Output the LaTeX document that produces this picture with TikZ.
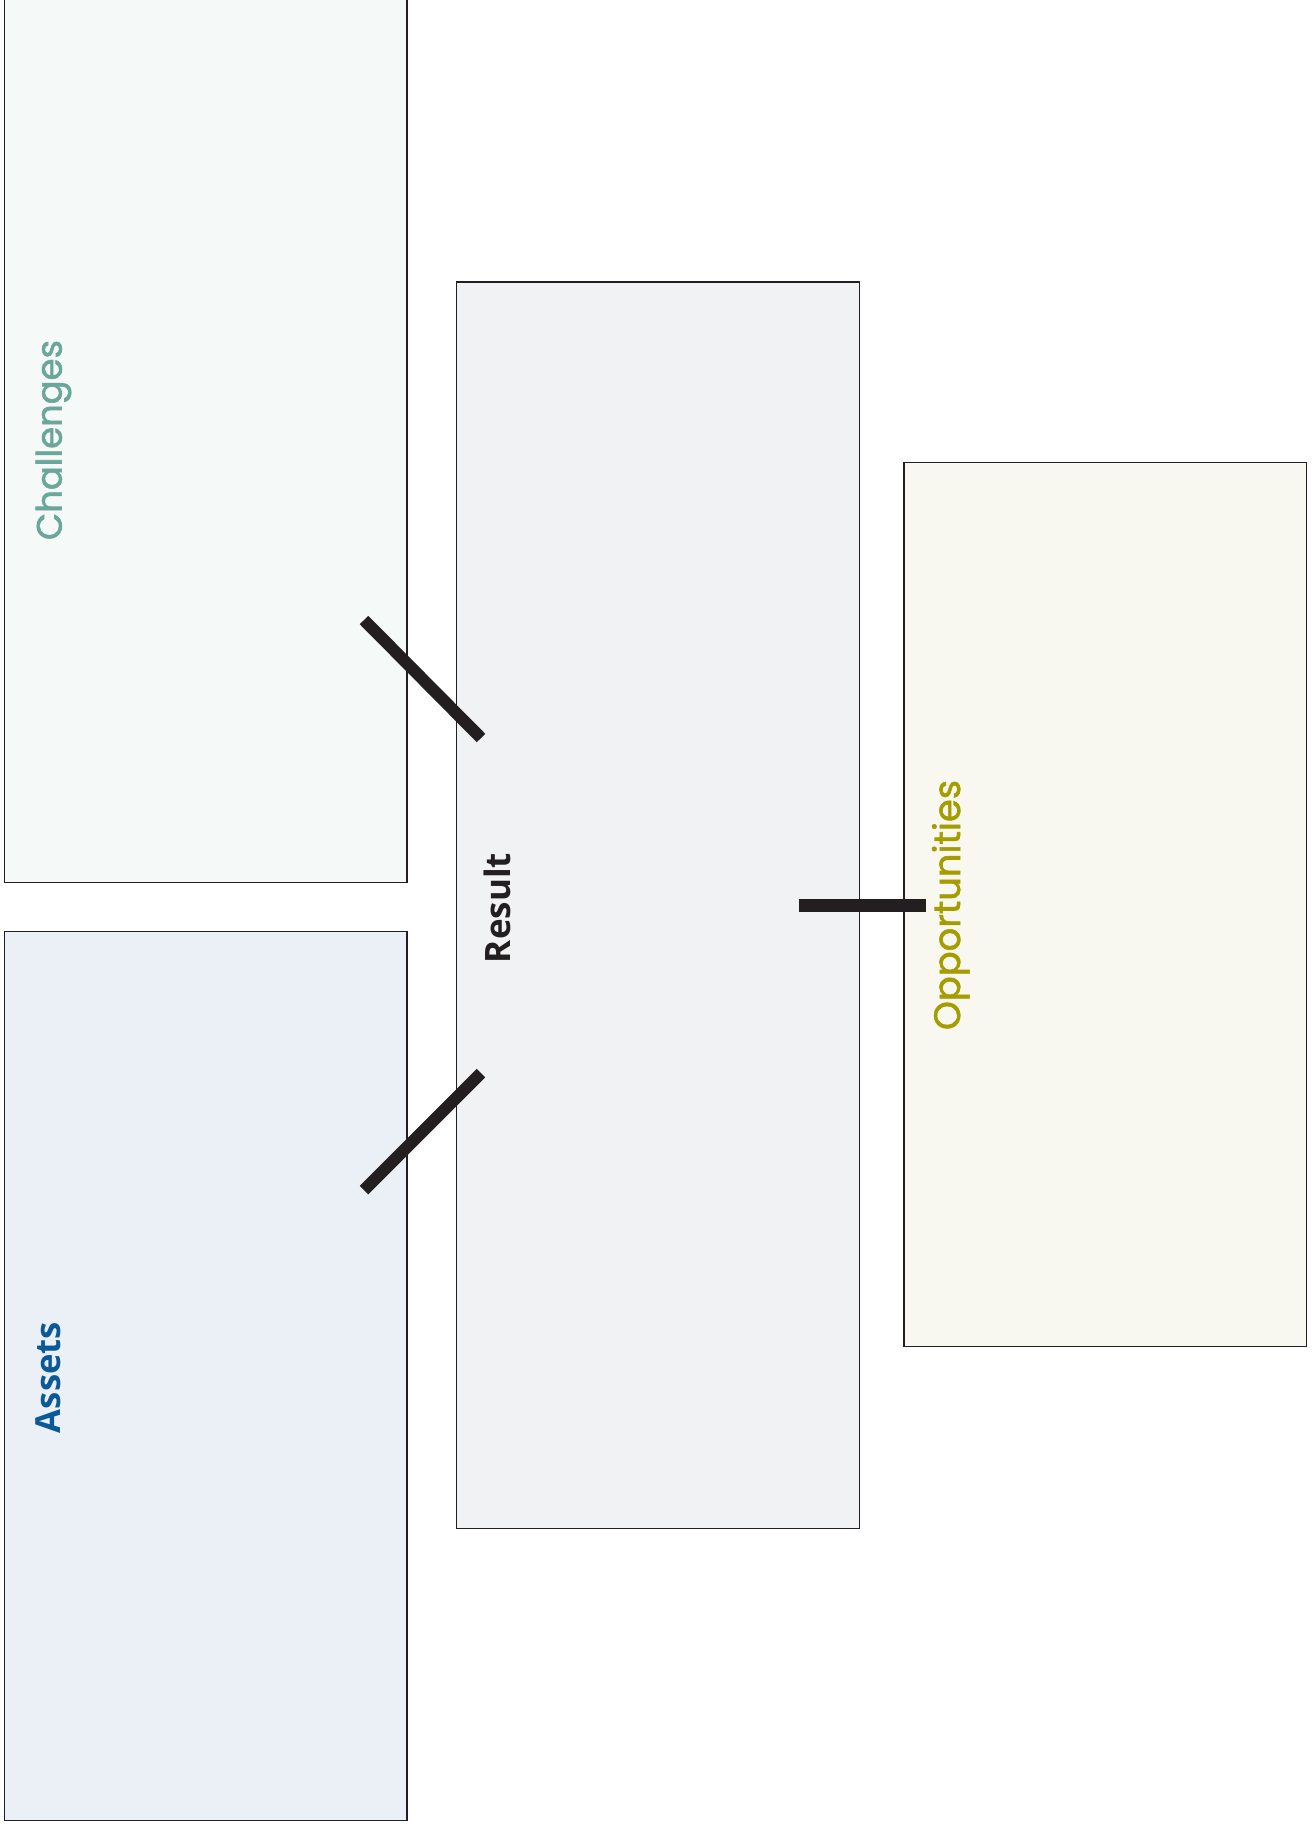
\documentclass[tikz,border=0pt]{standalone}
\usepackage{fontspec}
\setmainfont{Poppins}
\newfontfamily\geosans{Poppins}[FakeBold=1.6]
\newfontfamily\boldsans{Open Sans}[BoldFont={* Bold}]
\usepackage{graphicx}

\definecolor{inkline}{RGB}{35,31,32}
\definecolor{chalfill}{RGB}{245,249,248}
\definecolor{chaltext}{RGB}{106,166,153}
\definecolor{assetfill}{RGB}{235,240,247}
\definecolor{assettext}{RGB}{11,90,151}
\definecolor{resfill}{RGB}{241,242,244}
\definecolor{opfill}{RGB}{248,248,241}
\definecolor{optext}{RGB}{165,157,0}

\begin{document}
\begin{tikzpicture}[x=1pt,y=-1pt,
  panel/.style={draw=inkline, line width=1.2pt, inner sep=0pt},
  link/.style={draw=inkline, line width=12pt, line cap=butt},
  vlabel/.style={rotate=90, anchor=base west, inner sep=0pt, outer sep=0pt}]
  \useasboundingbox (0,0) rectangle (1314,1828);

  % four panels (the top one runs off the upper edge)
  \path[panel, fill=chalfill]  (4.5,-10) rectangle (407,882.7);
  \node[minimum width=402.5pt, minimum height=892.7pt, inner sep=0pt] (chal) at (205.75,436.35) {};
  \node[panel, fill=assetfill, minimum width=402.5pt, minimum height=889pt] (asset) at (205.75,1376.2) {};
  \node[panel, fill=resfill, minimum width=402.6pt, minimum height=1246.7pt] (res) at (658,905.35) {};
  \node[panel, fill=opfill, minimum width=402.7pt, minimum height=884pt] (opp) at (1105.35,904.7) {};

  % panel titles
  \node[vlabel, text=chaltext] (chaltitle) at (61.7,540)
    {\resizebox{200pt}{!}{\geosans Challenges}};
  \node[vlabel, text=assettext] (assettitle) at (60,1433)
    {\resizebox{111pt}{!}{\boldsans\bfseries Assets}};
  \node[vlabel, text=inkline] (restitle) at (510.7,963)
    {\resizebox{110pt}{!}{\boldsans\bfseries Result}};
  \node[vlabel, text=optext] (opptitle) at (960,1030)
    {\resizebox{250pt}{!}{\geosans Opportunities}};

  % connector ends
  \coordinate (c1) at (364,620);
  \coordinate (c2) at (481,738);
  \coordinate (a1) at (364,1190);
  \coordinate (a2) at (481,1073);
  \coordinate (o1) at (799,905.8);
  \coordinate (o2) at (926,905.8);

  % connectors
  \draw[link] (c1) -- (c2);
  \draw[link] (a1) -- (a2);
  \draw[link, line width=13pt] (o1) -- (o2);
\end{tikzpicture}
\end{document}
